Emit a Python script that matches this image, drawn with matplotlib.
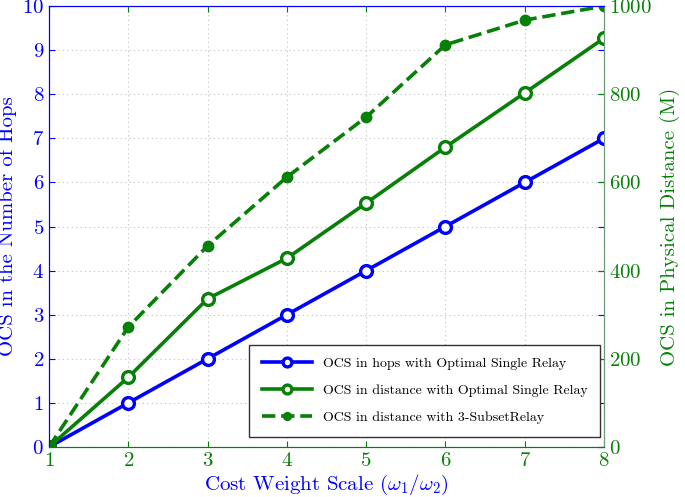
import matplotlib
matplotlib.use("Agg")
import matplotlib.pyplot as plt

plt.rcParams['font.family'] = 'serif'
plt.rcParams['font.serif'] = ['cmr10']
plt.rcParams['mathtext.fontset'] = 'cm'
plt.rcParams['axes.formatter.use_mathtext'] = True

# data
weight_scale = [1, 2, 3, 4, 5, 6, 7, 8]
ocs_hops_single = [0, 1, 2, 3, 4, 5, 6, 7]
ocs_dist_single = [0, 158, 336, 428, 553, 680, 803, 927]
ocs_dist_subset = [0, 272, 456, 612, 748, 912, 968, 1000]

blue = '#0000ff'
green = '#078007'

fig = plt.figure(figsize=(6.85, 4.97), dpi=100)
ax = fig.add_axes([0.0715, 0.1006, 0.8103, 0.8873])
ax2 = ax.twinx()

l1, = ax.plot(weight_scale, ocs_hops_single, color=blue, lw=2.6, marker='o', ms=8.5,
              mfc='white', mew=2.4, label='OCS in hops with Optimal Single Relay', zorder=3)
l2, = ax2.plot(weight_scale, ocs_dist_single, color=green, lw=2.6, marker='o', ms=8.5,
               mfc='white', mew=2.4, label='OCS in distance with Optimal Single Relay')
l3, = ax2.plot(weight_scale, ocs_dist_subset, color=green, lw=2.6, ls='--', marker='o', ms=7.5,
               label='OCS in distance with 3-SubsetRelay')

ax.set_xlim(1, 8)
ax.set_ylim(0, 10)
ax2.set_ylim(0, 1000)
ax.set_xticks(range(1, 9))
ax.set_yticks(range(0, 11))
ax2.set_yticks(range(0, 1001, 200))

ax.grid(True, color='#c0c0c0', ls=(0, (1, 3)), lw=0.8)
ax.tick_params(axis='y', colors=blue, labelsize=15, direction='in', right=True, length=4)
ax.tick_params(axis='x', colors=green, labelsize=15, direction='in', top=True, length=4)
ax2.tick_params(axis='y', colors=green, labelsize=15, direction='in', length=4)

for a in (ax, ax2):
    a.spines['left'].set_color(blue)
    a.spines['top'].set_color(blue)
    a.spines['bottom'].set_color(green)
    a.spines['right'].set_color('#6a9a7a')

ax.set_xlabel(r'Cost Weight Scale ($\omega_1/\omega_2$)', color=blue, fontsize=15, labelpad=2)
ax.set_ylabel('OCS in the Number of Hops', color=blue, fontsize=15, labelpad=4)
ax2.set_ylabel('OCS in Physical Distance (M)', color=green, fontsize=15, labelpad=6)

leg = ax2.legend(handles=[l1, l2, l3], loc='lower right', fontsize=10, fancybox=False,
                 edgecolor='#333333', framealpha=1, handlelength=3.6, borderpad=0.9,
                 labelspacing=1.05, markerscale=0.75, borderaxespad=0,
                 bbox_to_anchor=(0.993, 0.023))
leg.get_frame().set_linewidth(1.0)

fig.savefig('out.png', dpi=100)
